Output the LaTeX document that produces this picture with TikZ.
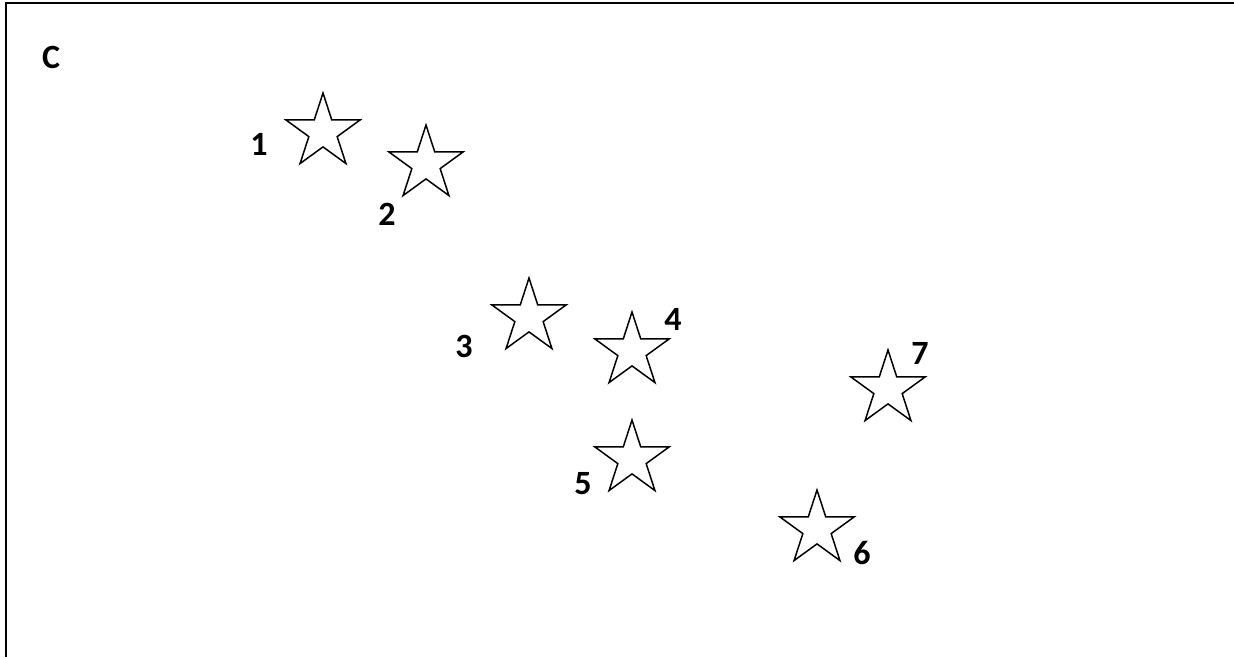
\documentclass[tikz,border=0pt]{standalone}
\usepackage{fontspec}
\setmainfont{Carlito}
\usetikzlibrary{shapes.geometric}
\tikzset{
  starshape/.style={star, star points=5, star point ratio=2.618, minimum size=78pt, inner sep=0pt, draw=black, line width=1.5pt, fill=white},
  lbl/.style={font=\fontsize{34}{40}\selectfont\bfseries, inner sep=0pt, anchor=center},
}
\begin{document}
\begin{tikzpicture}[x=1pt,y=-1pt]
\useasboundingbox (0,0) rectangle (1234,657);
\coordinate (bl) at (6,657);
\coordinate (tl) at (6,3);
\coordinate (tr) at (1234,3);
\draw[line width=2.2pt] (bl) -- (tl) -- (tr);
\node[lbl] (C) at (51,57) {C};
\node[starshape] (s1) at (323,132) {};
\node[starshape] (s2) at (426,164) {};
\node[starshape] (s3) at (529,317) {};
\node[starshape] (s4) at (632,351) {};
\node[starshape] (s5) at (632,459) {};
\node[starshape] (s6) at (817,529) {};
\node[starshape] (s7) at (888,389) {};
\node[lbl] (l1) at (259,144) {1};
\node[lbl] (l2) at (387,214) {2};
\node[lbl] (l3) at (464,346) {3};
\node[lbl] (l4) at (673,319) {4};
\node[lbl] (l5) at (583,484) {5};
\node[lbl] (l6) at (862,553) {6};
\node[lbl] (l7) at (920,353) {7};
\end{tikzpicture}
\end{document}
